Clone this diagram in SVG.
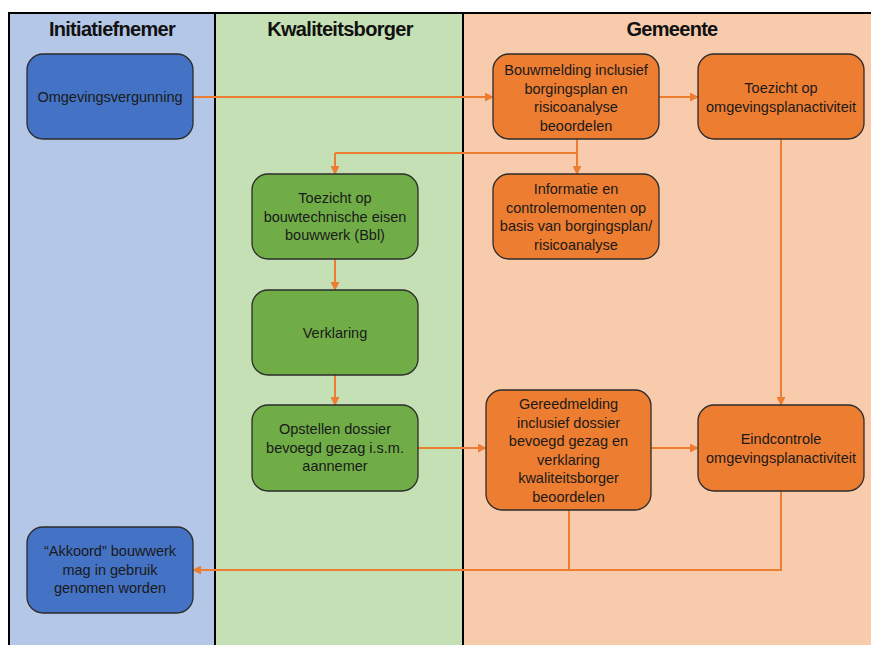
<svg xmlns="http://www.w3.org/2000/svg" width="871" height="645" viewBox="0 0 871 645">
<defs>
<marker id="ah" viewBox="0 0 10 10" refX="9" refY="5" markerWidth="9" markerHeight="9" markerUnits="userSpaceOnUse" orient="auto">
<path d="M0,0 L10,5 L0,10 Z" fill="#ED7D31"/>
</marker>
</defs>
<style>
.lane{stroke:#000;stroke-width:2}
.title{font-family:"Liberation Sans",Arial,sans-serif;font-size:20px;font-weight:bold;fill:#111;text-anchor:middle;letter-spacing:-0.7px}
.node rect{stroke:#2b2b2b;stroke-width:1.3}
.node text{font-family:"Liberation Sans",Arial,sans-serif;font-size:14.5px;fill:#1a1a1a;text-anchor:middle}
.blue rect{fill:#4472C4}
.green rect{fill:#70AD47}
.orange rect{fill:#ED7D31}
.conn path{fill:none;stroke:#ED7D31;stroke-width:2}
.arr{marker-end:url(#ah)}
</style>
<rect x="0" y="0" width="871" height="645" fill="#fff"/>
<g id="lanes">
<rect class="lane" x="9" y="13" width="206" height="640" fill="#B4C7E7"/>
<rect class="lane" x="215" y="13" width="248" height="640" fill="#C5E0B4"/>
<rect class="lane" x="463" y="13" width="420" height="640" fill="#F8CBAD"/>
<text class="title" x="112" y="36">Initiatiefnemer</text>
<text class="title" x="340" y="36">Kwaliteitsborger</text>
<text class="title" x="672" y="36">Gemeente</text>
</g>
<g id="connectors" class="conn">
<path class="arr" d="M193,97 H493"/>
<path class="arr" d="M659,97 H698"/>
<path d="M577,139 V153 H335"/>
<path class="arr" d="M335,153 V174"/>
<path class="arr" d="M577,153 V174"/>
<path class="arr" d="M335,259 V290"/>
<path class="arr" d="M335,375 V405"/>
<path class="arr" d="M418,448 H486"/>
<path class="arr" d="M651,448 H698"/>
<path class="arr" d="M781,139 V405"/>
<path d="M569,510 V570"/>
<path class="arr" d="M781,491 V570 H193"/>
</g>
<g id="n-omgevingsvergunning" class="node blue">
<rect x="27" y="54" width="166" height="85" rx="16"/>
<text x="110" y="102">Omgevingsvergunning</text>
</g>
<g id="n-bouwmelding" class="node orange">
<rect x="493" y="54" width="166" height="85" rx="16"/>
<text x="576" y="75">Bouwmelding inclusief</text>
<text x="576" y="93.5">borgingsplan en</text>
<text x="576" y="112">risicoanalyse</text>
<text x="576" y="130.5">beoordelen</text>
</g>
<g id="n-toezicht-omgevingsplan" class="node orange">
<rect x="698" y="54" width="166" height="85" rx="16"/>
<text x="781" y="93">Toezicht op</text>
<text x="781" y="111.5">omgevingsplanactiviteit</text>
</g>
<g id="n-toezicht-bouwtechnisch" class="node green">
<rect x="252" y="174" width="166" height="85" rx="16"/>
<text x="335" y="203">Toezicht op</text>
<text x="335" y="221.5">bouwtechnische eisen</text>
<text x="335" y="240">bouwwerk (Bbl)</text>
</g>
<g id="n-informatie" class="node orange">
<rect x="493" y="174" width="166" height="85" rx="16"/>
<text x="576" y="194">Informatie en</text>
<text x="576" y="212.5">controlemomenten op</text>
<text x="576" y="231">basis van borgingsplan/</text>
<text x="576" y="249.5">risicoanalyse</text>
</g>
<g id="n-verklaring" class="node green">
<rect x="252" y="290" width="166" height="85" rx="16"/>
<text x="335" y="338">Verklaring</text>
</g>
<g id="n-opstellen" class="node green">
<rect x="252" y="405" width="166" height="86" rx="16"/>
<text x="335" y="434">Opstellen dossier</text>
<text x="335" y="452.5">bevoegd gezag i.s.m.</text>
<text x="335" y="471">aannemer</text>
</g>
<g id="n-gereedmelding" class="node orange">
<rect x="486" y="390" width="165" height="120" rx="16"/>
<text x="568.5" y="409">Gereedmelding</text>
<text x="568.5" y="427.5">inclusief dossier</text>
<text x="568.5" y="446">bevoegd gezag en</text>
<text x="568.5" y="464.5">verklaring</text>
<text x="568.5" y="483">kwaliteitsborger</text>
<text x="568.5" y="501.5">beoordelen</text>
</g>
<g id="n-eindcontrole" class="node orange">
<rect x="698" y="405" width="166" height="86" rx="16"/>
<text x="781" y="444">Eindcontrole</text>
<text x="781" y="462.5">omgevingsplanactiviteit</text>
</g>
<g id="n-akkoord" class="node blue">
<rect x="27" y="527" width="166" height="86" rx="16"/>
<text x="110" y="556">“Akkoord” bouwwerk</text>
<text x="110" y="574.5">mag in gebruik</text>
<text x="110" y="593">genomen worden</text>
</g>
</svg>
